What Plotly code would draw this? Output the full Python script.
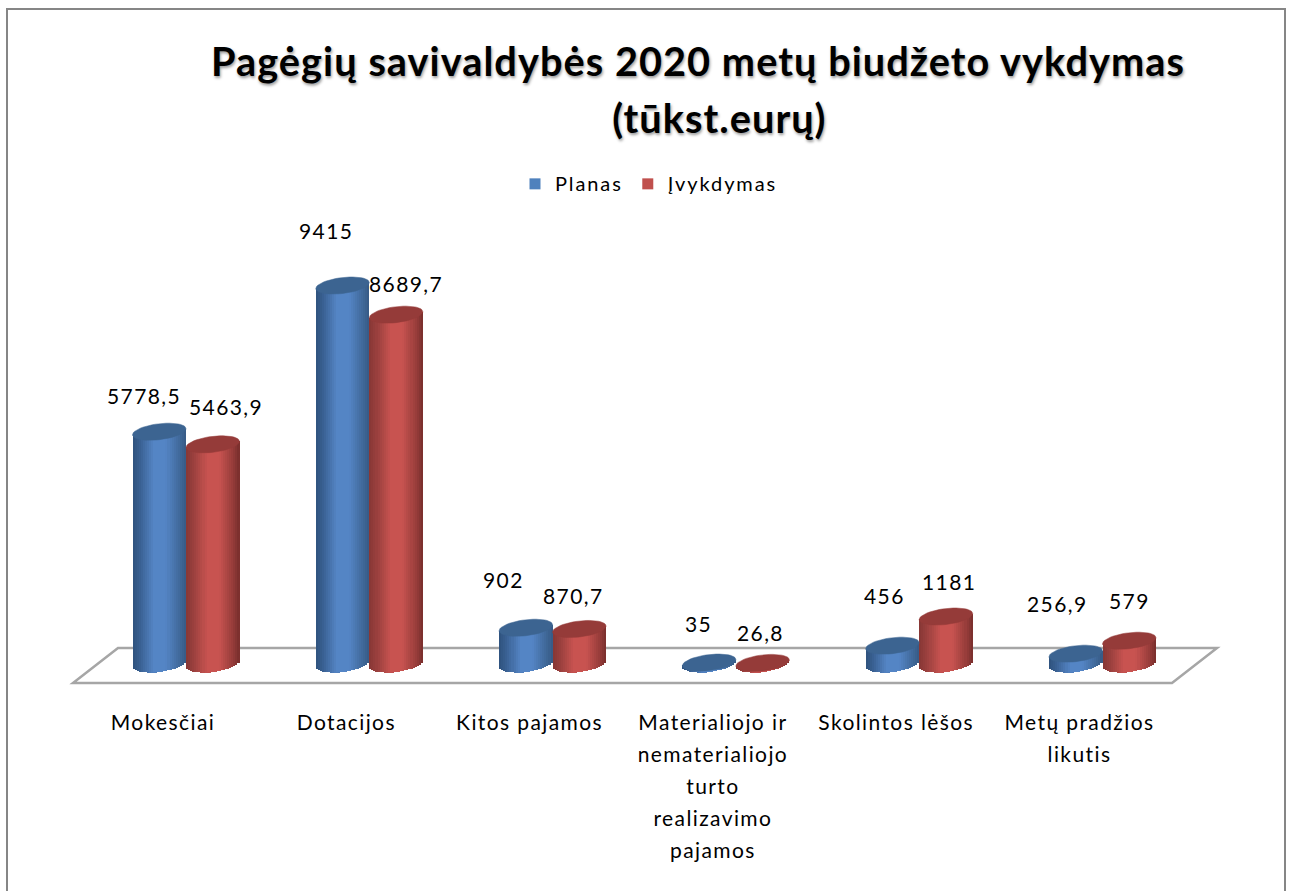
import math
import plotly.graph_objects as go

categories = ["Mokesčiai", "Dotacijos", "Kitos pajamos",
              "Materialiojo ir<br>nematerialiojo<br>turto<br>realizavimo<br>pajamos",
              "Skolintos lėšos", "Metų pradžios<br>likutis"]
planas = [5778.5, 9415, 902, 35, 456, 256.9]
ivykdymas = [5463.9, 8689.7, 870.7, 26.8, 1181, 579]
planas_labels = ["5778,5", "9415", "902", "35", "456", "256,9"]
ivykdymas_labels = ["5463,9", "8689,7", "870,7", "26,8", "1181", "579"]
title_lines = ["Pagėgių savivaldybės 2020 metų biudžeto vykdymas", "\u00a0\u00a0\u00a0\u00a0(tūkst.eurų)"]

# layout helpers (pixels)
W, H, PLOT_B = 1292, 891, 704
PX_GROUP0, PX_GROUP = 186.0, 183.3
PX_PER_UNIT = 0.0402
FONT = "Lato"

def fx(px): return px / W
def fy(py): return 1 - py / PLOT_B
def sp(text, size, ls=0):
    return "<br>".join(f'<span style="font-size:{size}px;letter-spacing:{ls}px">{t}</span>' for t in text.split("<br>"))

BAR_W = 53.5 / PX_GROUP
OFF = BAR_W / 2
ELL_B = 8.0 / PX_PER_UNIT
TILT = 3.0 / PX_PER_UNIT
N = 26
xs = list(range(len(categories)))

blue_stops = [(0, (47, 82, 125)), (0.12, (56, 94, 143)), (0.4, (84, 133, 197)), (0.62, (84, 133, 197)), (0.9, (62, 102, 150)), (1, (55, 90, 133))]
red_stops = [(0, (135, 55, 53)), (0.12, (150, 62, 60)), (0.4, (200, 83, 80)), (0.62, (200, 83, 80)), (0.88, (150, 60, 58)), (1, (120, 46, 44))]

def shade(stops, t):
    for (a, ca), (b, cb) in zip(stops, stops[1:]):
        if a <= t <= b:
            f = (t - a) / (b - a)
            return "rgb(%d,%d,%d)" % tuple(round(p + (q - p) * f) for p, q in zip(ca, cb))
    return "rgb(%d,%d,%d)" % stops[-1][1]

fig = go.Figure()

def add_cylinders(values, delta, stops, top_color, name, swatch):
    sw = BAR_W / N
    w = 3 * sw
    # painted from the outside in, each strip overlapping towards the middle, so no seams show
    order = []
    for k in range(N // 2):
        order += [(k, k * sw), (N - 1 - k, (N - k) * sw - w)]
    for k, start in order:
        t = (k + 0.5) / N
        u = 2 * t - 1
        low = -ELL_B * math.sqrt(max(0, 1 - u * u)) + TILT * u
        base = [low for _ in values]
        height = [v + TILT * u - low for v in values]
        fig.add_bar(x=xs, y=height, base=base, width=w,
                    offset=delta - BAR_W / 2 + start,
                    marker=dict(color=shade(stops, t), line=dict(width=0)),
                    showlegend=False, hoverinfo="skip")
    ex, ey = [], []
    for i, v in zip(xs, values):
        for j in range(49):
            a = 2 * math.pi * j / 48
            ex.append(i + delta + BAR_W / 2 * math.cos(a))
            ey.append(v + ELL_B * math.sin(a) + TILT * math.cos(a))
        ex.append(None); ey.append(None)
    fig.add_scatter(x=ex, y=ey, mode="lines", fill="toself", fillcolor=top_color,
                    line=dict(width=0.5, color=top_color), showlegend=False, hoverinfo="skip")
    fig.add_scatter(x=[None], y=[None], mode="markers", name=sp(name, 20, 1.9),
                    marker=dict(symbol="square", size=11, color=swatch))

add_cylinders(planas, -OFF, blue_stops, "#3c6491", "Planas", "#4f81bd")
add_cylinders(ivykdymas, OFF, red_stops, "#953b39", "Įvykdymas", "#c0504d")

# value labels: pixel offsets from each cylinder top
p_shift = [(-15, 36), (-17, 55), (-22, 48), (-11, 39), (-8, 50), (-18, 50)]
r_shift = [(13, 38), (10, 31), (-6, 34), (-2, 30), (3, 35), (0, 40)]
for vals, labs, shifts, delta in ((planas, planas_labels, p_shift, -OFF), (ivykdymas, ivykdymas_labels, r_shift, OFF)):
    for i, v, lab, (dx, dy) in zip(xs, vals, labs, shifts):
        fig.add_annotation(x=i + delta, y=v, text=sp(lab, 21, 1.4), showarrow=False,
                           xshift=dx, yshift=dy, font=dict(family=FONT, color="#000"))

fig.add_shape(type="rect", xref="paper", yref="paper", x0=fx(7), x1=fx(1285), y0=fy(905), y1=fy(9),
              layer="below", line=dict(color="#868686", width=2), fillcolor="white")
floor = f"M {fx(118)} {fy(648)} L {fx(1217)} {fy(648)} L {fx(1172)} {fy(683)} L {fx(73)} {fy(683)} Z"
fig.add_shape(type="path", path=floor, xref="paper", yref="paper", layer="below",
              line=dict(color="#a6a6a6", width=2.5), fillcolor="white")

fig.update_layout(
    width=W, height=H, margin=dict(l=0, r=0, t=0, b=H - PLOT_B),
    paper_bgcolor="white", plot_bgcolor="rgba(0,0,0,0)",
    barmode="overlay", bargap=0, bargroupgap=0, font=dict(family=FONT, color="#000"),
    title=dict(text="<b>" + "<br>".join(sp(t, 39.7, 1.05) for t in title_lines) + "</b>",
               x=698 / W, xanchor="center", y=1 - 76 / H, yanchor="top",
               font=dict(family=FONT, size=44, color="#000", shadow="1px 2px 3px rgba(0,0,0,0.4)")),
    legend=dict(orientation="h", x=fx(515), y=fy(184), xanchor="left", yanchor="middle",
                bgcolor="rgba(0,0,0,0)", font=dict(family=FONT, size=19)),
    xaxis=dict(range=[-PX_GROUP0 / PX_GROUP, (W - PX_GROUP0) / PX_GROUP],
               tickmode="array", tickvals=[i - 23 / PX_GROUP for i in xs],
               ticktext=[sp(c, 21, 1.4) for c in categories],
               tickangle=0, tickfont=dict(family=FONT, size=24.6, color="#000"),
               showgrid=False, zeroline=False, showline=False, ticks="", automargin=False),
    yaxis=dict(range=[-(PLOT_B - 664) / PX_PER_UNIT, 664 / PX_PER_UNIT], visible=False, automargin=False),
)

fig.write_html("out.html", config=dict(displayModeBar=False),
               post_script="document.body.style.margin='0';document.documentElement.style.overflow='hidden';")
